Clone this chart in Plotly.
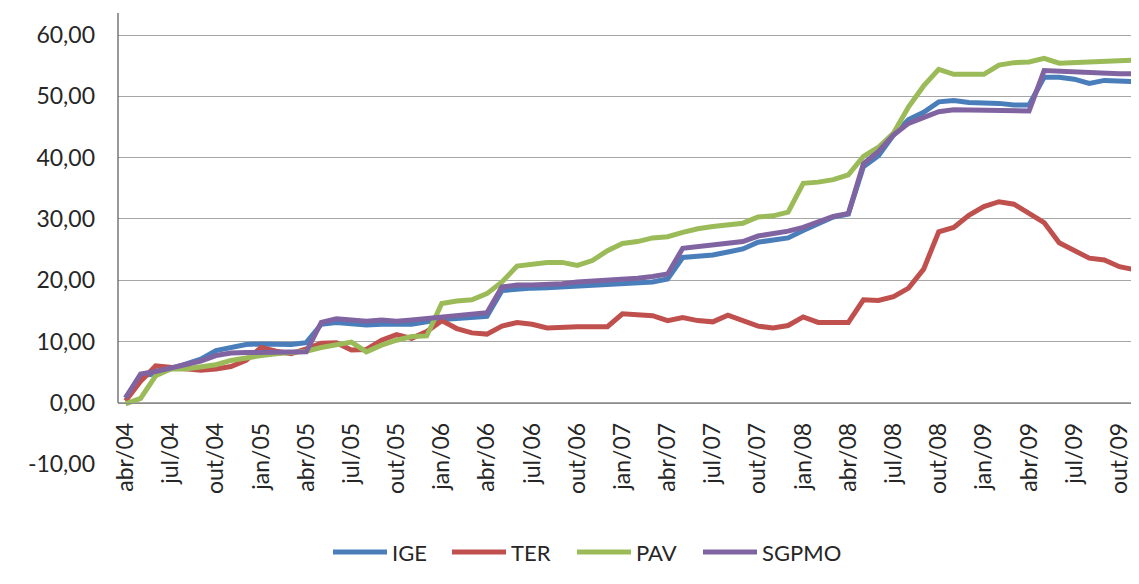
import plotly.graph_objects as go

months = ["jan", "fev", "mar", "abr", "mai", "jun", "jul", "ago", "set", "out", "nov", "dez"]
# monthly categories abr/04 .. nov/09
categories = []
for yr in range(4, 10):
    for mi, mn in enumerate(months):
        if (yr == 4 and mi < 3) or (yr == 9 and mi > 10):
            continue
        categories.append(f"{mn}/{yr:02d}")

IGE = [0.8, 4.4, 4.7, 5.5, 6.3, 7.1, 8.5, 9.1, 9.5, 9.6, 9.6, 9.5, 9.8, 12.8, 13.1, 12.9, 12.7,
       12.8, 12.7, 12.8, 13.2, 13.6, 13.75, 13.9, 14.1, 18.3, 18.6, 18.7, 18.75, 18.9, 19.0, 19.1,
       19.2, 19.4, 19.5, 19.7, 20.2, 23.7, 23.9, 24.1, 24.6, 25.1, 26.2, 26.6, 26.9, 28.1, 29.2,
       30.3, 30.8, 38.5, 40.3, 43.7, 46.2, 47.4, 49.1, 49.3, 49.0, 49.0, 48.85, 48.6, 48.6, 53.1,
       53.1, 52.8, 52.1, 52.6, 52.6, 52.4]
TER = [0.3, 3.5, 6.0, 5.8, 5.6, 5.3, 5.5, 5.9, 6.9, 9.0, 8.4, 8.0, 8.8, 9.7, 9.8, 8.6, 8.7,
       10.2, 11.1, 10.5, 11.6, 13.4, 12.1, 11.4, 11.2, 12.5, 13.1, 12.8, 12.2, 12.4, 12.4, 12.4,
       12.4, 14.5, 14.3, 14.2, 13.4, 13.9, 13.4, 13.2, 14.3, 13.4, 12.5, 12.2, 12.6, 14.0, 13.1,
       13.1, 13.1, 16.8, 16.7, 17.3, 18.7, 21.8, 27.9, 28.6, 30.6, 32.0, 32.8, 32.4, 30.9, 29.4,
       26.1, 24.9, 23.6, 23.3, 22.2, 21.7]
PAV = [-0.2, 0.7, 4.4, 5.5, 5.5, 5.8, 6.2, 6.9, 7.4, 7.7, 8.0, 8.1, 8.4, 9.0, 9.4, 9.9, 8.3,
       9.4, 10.2, 10.8, 10.9, 16.2, 16.6, 16.8, 17.8, 19.7, 22.3, 22.6, 22.9, 22.9, 22.4, 23.2,
       24.8, 26.0, 26.3, 26.9, 27.1, 27.8, 28.4, 28.75, 29.1, 29.3, 30.3, 30.5, 31.1, 35.8, 36.0,
       36.4, 37.2, 40.2, 41.7, 44.0, 48.3, 51.7, 54.4, 53.6, 53.6, 53.6, 55.1, 55.5, 55.6, 56.2,
       55.4, 55.5, 55.5, 55.75, 55.9, 55.9]
SGPMO = [0.8, 4.7, 5.1, 5.7, 6.3, 6.8, 7.7, 8.1, 8.2, 8.2, 8.2, 8.2, 8.3, 13.1, 13.7, 13.5, 13.3,
         13.5, 13.3, 13.5, 13.7, 14.0, 14.1, 14.3, 14.7, 18.9, 19.2, 19.2, 19.2, 19.4, 19.7, 19.8,
         19.9, 20.1, 20.3, 20.6, 21.0, 25.2, 25.5, 25.65, 26.0, 26.3, 27.2, 27.5, 28.0, 28.6, 29.5,
         30.4, 30.9, 39.0, 41.0, 43.7, 45.6, 46.6, 47.5, 47.8, 47.8, 47.8, 47.8, 47.6, 47.6, 54.2,
         54.1, 53.9, 53.7, 53.7, 53.7, 53.7]

series_names = ["IGE", "TER", "PAV", "SGPMO"]
series_values = [IGE, TER, PAV, SGPMO]
colors = ["#4A7EBB", "#C0504D", "#9BBB59", "#8064A2"]

y_ticks = [-10, 0, 10, 20, 30, 40, 50, 60]
y_ticktext = [f"{v:.2f}".replace(".", ",") for v in y_ticks]
x_tick_idx = list(range(0, len(categories), 3))
x_ticktext = [categories[i] for i in x_tick_idx]

ymin, ymax = -10, 63.6
xs = list(range(len(categories)))

W, H = 1139, 584
ML, MR, MT, MB = 110, 5, 5, 128
PW, PH = W - ML - MR, H - MT - MB
OFF = 8  # page body margin


def px_x(p):
    return (p - OFF - ML) / PW


def px_y(p):
    return (H - MB - (p - OFF)) / PH


FONT = "Lato"
TXT = "#262626"
fig = go.Figure()
for name, vals, col in zip(series_names, series_values, colors):
    fig.add_trace(go.Scatter(x=xs, y=vals, mode="lines", name=name,
                             line=dict(color=col, width=5), showlegend=False))

fig.update_layout(
    width=W, height=H,
    margin=dict(l=ML, r=MR, t=MT, b=MB),
    paper_bgcolor="white", plot_bgcolor="white",
    font=dict(family=FONT, size=23, color=TXT),
    showlegend=False,
    xaxis=dict(range=[-0.5, len(categories) - 0.5], tickmode="array",
               tickvals=x_tick_idx, ticktext=x_ticktext, tickangle=-90,
               showgrid=False, zeroline=False, showline=True, linecolor="#8C8C8C",
               linewidth=1, ticks="", anchor="free",
               position=(0 - ymin) / (ymax - ymin), ticklabelstandoff=10),
    yaxis=dict(range=[ymin, ymax], tickmode="array", tickvals=y_ticks, ticktext=y_ticktext,
               showgrid=True, gridcolor="#A6A6A6", gridwidth=1, zeroline=False,
               showline=False, ticks="", ticklabelstandoff=22),
)
# vertical axis line (from 0 up to the top of the plot area)
fig.add_shape(type="line", xref="paper", yref="y", x0=0, x1=0, y0=0, y1=ymax,
              line=dict(color="#555555", width=1.2), layer="above")

# legend drawn below the chart
leg_starts = [333, 452, 577, 703]
leg_y = px_y(552)
for name, col, sx in zip(series_names, colors, leg_starts):
    fig.add_shape(type="line", xref="paper", yref="paper",
                  x0=px_x(sx), x1=px_x(sx + 54), y0=leg_y, y1=leg_y,
                  line=dict(color=col, width=5))
    fig.add_annotation(xref="paper", yref="paper", x=px_x(sx + 57), y=leg_y,
                       text=name, showarrow=False, xanchor="left", yanchor="middle",
                       font=dict(family=FONT, size=22, color=TXT))

fig.write_html("out.html")
